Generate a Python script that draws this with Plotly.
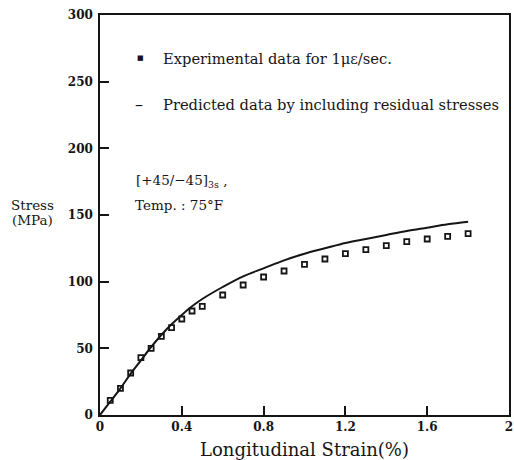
import plotly.graph_objects as go

exp_strain = [0.05, 0.1, 0.15, 0.2, 0.25, 0.3, 0.35, 0.4, 0.45, 0.5, 0.6, 0.7, 0.8, 0.9,
              1.0, 1.1, 1.2, 1.3, 1.4, 1.5, 1.6, 1.7, 1.8]
exp_stress = [11, 20, 31.5, 43, 50, 59, 65.5, 72, 78, 81.5, 90, 97.5, 103.5, 108,
              113, 117, 121, 124, 127, 130, 132, 134, 136]

pred_strain = [0, 0.05, 0.1, 0.15, 0.2, 0.25, 0.3, 0.35, 0.4, 0.45, 0.5, 0.6, 0.7, 0.8,
               0.9, 1.0, 1.1, 1.2, 1.3, 1.4, 1.5, 1.6, 1.7, 1.8]
pred_stress = [0, 10, 20, 31, 41, 51, 60, 68, 75, 81.5, 87, 96, 104, 110,
               116, 121, 125, 129, 132, 135, 138, 140.5, 143, 145]

x_ticks = [0, 0.4, 0.8, 1.2, 1.6, 2]
x_labels = ["0", "0.4", "0.8", "1.2", "1.6", "2"]
y_ticks = [0, 50, 100, 150, 200, 250, 300]

FONT = "DejaVu Serif"
INK = "#151515"

fig = go.Figure()
fig.add_trace(go.Scatter(x=pred_strain, y=pred_stress, mode="lines",
                         line=dict(color=INK, width=2, shape="spline"),
                         showlegend=False))
fig.add_trace(go.Scatter(x=exp_strain, y=exp_stress, mode="markers",
                         marker=dict(symbol="square-open", size=5, color=INK,
                                     line=dict(width=1.8, color=INK)),
                         showlegend=False))

W, H = 514, 460
ml, mr, mt, mb = 100, 5, 15, 45
PW, PH = W - ml - mr, H - mt - mb


def px(x):
    return (x - ml) / PW


def py(y):
    return 1 - (y - mt) / PH


ann = [
    dict(text="■", x=135, y=58, size=7),
    dict(text="Experimental data for 1με/sec.", x=161, y=58, size=14.7),
    dict(text="–", x=133, y=104, size=16),
    dict(text="Predicted data by including residual stresses", x=161, y=104, size=14.7),
    dict(text="[+45/−45]<sub>3s</sub> ,", x=134, y=181, size=13.5),
    dict(text="Temp. : 75°F", x=133, y=205, size=13.5),
]
for a in ann:
    fig.add_annotation(text=a["text"], xref="paper", yref="paper",
                       x=px(a["x"]), y=py(a["y"]),
                       xanchor="left", yanchor="middle", showarrow=False,
                       font=dict(family=FONT, size=a["size"], color=INK))

for txt, yy in [("Stress", 205), ("(MPa)", 220)]:
    fig.add_annotation(text=txt, xref="paper", yref="paper",
                       x=px(32), y=py(yy),
                       xanchor="center", yanchor="middle", showarrow=False,
                       font=dict(family=FONT, size=13.5, color=INK))

fig.add_annotation(text="Longitudinal Strain(%)", xref="paper", yref="paper",
                   x=0.5, y=py(450), xanchor="center", yanchor="middle",
                   showarrow=False, font=dict(family=FONT, size=18, color=INK))

fig.update_layout(
    width=W, height=H,
    margin=dict(l=ml, r=mr, t=mt, b=mb, autoexpand=False),
    paper_bgcolor="white", plot_bgcolor="white",
    font=dict(family=FONT, color=INK),
    xaxis=dict(range=[0, 2], tickvals=x_ticks, ticktext=x_labels,
               ticks="inside", ticklen=9, tickwidth=1.5, tickcolor=INK,
               showline=True, linecolor=INK, linewidth=1.5, mirror=True,
               showgrid=False, zeroline=False, automargin=False,
               tickfont=dict(family=FONT, size=12, color=INK, weight="bold")),
    yaxis=dict(range=[0, 300], tickvals=y_ticks,
               ticks="inside", ticklen=9, tickwidth=1.5, tickcolor=INK,
               showline=True, linecolor=INK, linewidth=1.5, mirror=True,
               showgrid=False, zeroline=False, ticklabelstandoff=3, automargin=False,
               tickfont=dict(family=FONT, size=12, color=INK, weight="bold")),
)

fig.write_html("out.html")
